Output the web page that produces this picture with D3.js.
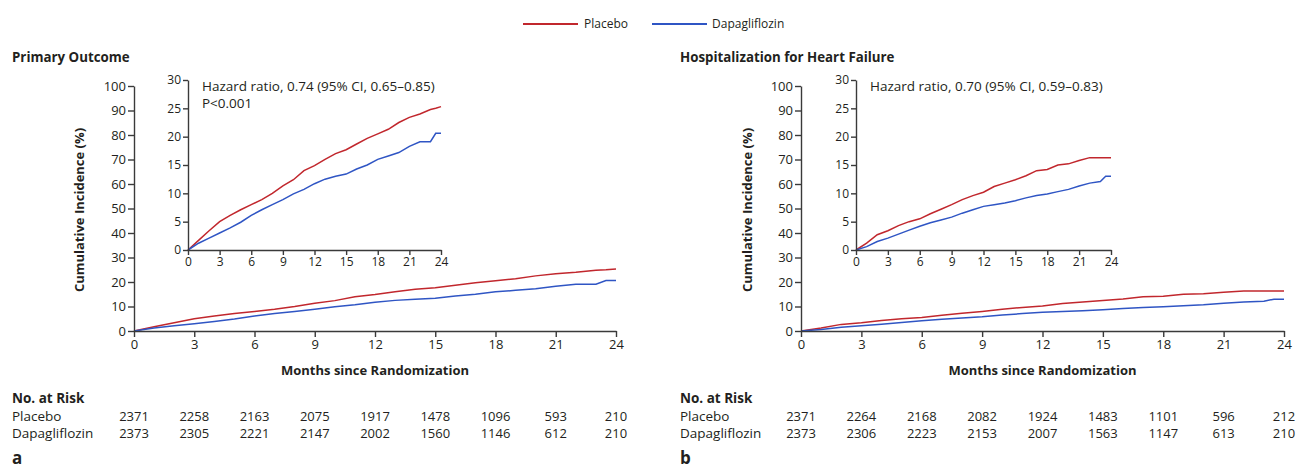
<!DOCTYPE html>
<html><head><meta charset="utf-8">
<script src="https://cdn.jsdelivr.net/npm/d3@7/dist/d3.min.js"></script>
<style>
body{margin:0;background:#fff;}
svg{display:block;}
text{font-family:"Open Sans",Lato,sans-serif;fill:#231f20;}
.axis path,.axis line{stroke:#3a3a3a;stroke-width:1.4;}
.axis text{font-size:13px;fill:#231f20;font-family:"Open Sans",sans-serif;}
.inset .axis text{font-size:12px;}
</style></head><body>
<svg id="chart" width="1298" height="471"></svg>
<script>
// ---------- data ----------
const seriesNames = ["Placebo", "Dapagliflozin"];
const xTicks = [0, 3, 6, 9, 12, 15, 18, 21, 24];
const mainYTicks = [0, 10, 20, 30, 40, 50, 60, 70, 80, 90, 100];
const insetYTicks = [0, 5, 10, 15, 20, 25, 30];

const timeA = [0,1,2,3,4,5,6,7,8,9,10,11,12,13,14,15,16,17,18,19,20,21,22,23,23.5,24];
const placeboA = [0,1.7,3.4,5.0,6.1,7.1,8.0,8.9,10.0,11.3,12.4,14.0,14.9,16.0,17.0,17.7,18.7,19.7,20.5,21.3,22.5,23.4,24.0,24.8,25.0,25.3];
const dapaA = [0,1.2,2.1,3.0,3.9,4.9,6.1,7.1,8.0,8.9,9.9,10.7,11.7,12.5,13.0,13.4,14.3,15.0,16.0,16.6,17.2,18.3,19.1,19.1,20.6,20.6];

const timeB = [0,1,2,3,4,5,6,7,8,9,10,11,12,13,14,15,16,17,18,19,20,21,22,23,23.5,24];
const placeboB = [0,1.2,2.7,3.4,4.3,5.0,5.5,6.4,7.2,8.0,8.9,9.6,10.2,11.2,11.8,12.4,13.1,14.0,14.2,15.0,15.2,15.8,16.3,16.3,16.3,16.3];
const dapaB = [0,0.6,1.5,2.1,2.8,3.5,4.2,4.8,5.3,5.8,6.5,7.1,7.7,8.0,8.3,8.7,9.2,9.6,9.9,10.3,10.7,11.3,11.8,12.1,13.0,13.0];

const riskPlaceboA = [2371,2258,2163,2075,1917,1478,1096,593,210];
const riskDapaA = [2373,2305,2221,2147,2002,1560,1146,612,210];
const riskPlaceboB = [2371,2264,2168,2082,1924,1483,1101,596,212];
const riskDapaB = [2373,2306,2223,2153,2007,1563,1147,613,210];

const titles = ["Primary Outcome", "Hospitalization for Heart Failure"];
const hrTexts = [["Hazard ratio, 0.74 (95% CI, 0.65\u20130.85)", "P<0.001"], ["Hazard ratio, 0.70 (95% CI, 0.59\u20130.83)"]];
const panelLetters = ["a", "b"];

// ---------- styles ----------
const colors = {Placebo: "#c1272d", Dapagliflozin: "#2f55c4"};

const svg = d3.select("#chart");

// legend
const legend = svg.append("g");
[[523, 584], [652, 712]].forEach((p, i) => {
  legend.append("line").attr("x1", p[0]).attr("x2", p[0] + 55).attr("y1", 24).attr("y2", 24)
    .attr("stroke", colors[seriesNames[i]]).attr("stroke-width", 2);
  legend.append("text").attr("x", p[1]).attr("y", 28).attr("font-size", 12).text(seriesNames[i]);
});

const panels = [
  {left: 0, mx: [134, 616], ix: [188, 441], time: timeA, placebo: placeboA, dapa: dapaA, riskP: riskPlaceboA, riskD: riskDapaA},
  {left: 668, mx: [801, 1284], ix: [856, 1111], time: timeB, placebo: placeboB, dapa: dapaB, riskP: riskPlaceboB, riskD: riskDapaB}
];

panels.forEach((P, pi) => {
  const g = svg.append("g");
  const L = P.left;
  // title
  g.append("text").attr("x", L + 12).attr("y", 62).attr("font-size", 13.3).attr("font-weight", "bold").text(titles[pi]);

  // main scales
  const x = d3.scaleLinear().domain([0, 24]).range(P.mx);
  const y = d3.scaleLinear().domain([0, 100]).range([331, 86]);
  const series = [{name: "Placebo", vals: P.placebo}, {name: "Dapagliflozin", vals: P.dapa}];

  const line = d3.line().x((d, i) => x(P.time[i])).y(d => y(d));
  series.forEach(s => {
    g.append("path").attr("d", line(s.vals)).attr("fill", "none")
      .attr("stroke", colors[s.name]).attr("stroke-width", 1.5);
  });

  g.append("g").attr("class", "axis").attr("transform", `translate(${P.mx[0]},0)`)
    .call(d3.axisLeft(y).tickValues(mainYTicks).tickSize(6).tickSizeOuter(0).tickPadding(2));
  g.append("g").attr("class", "axis").attr("transform", "translate(0,331)")
    .call(d3.axisBottom(x).tickValues(xTicks).tickSize(6).tickSizeOuter(0).tickPadding(3));

  // axis titles
  g.append("text").attr("transform", `translate(${L + 84},210) rotate(-90)`).attr("text-anchor", "middle")
    .attr("font-size", 13).attr("font-weight", "bold").text("Cumulative Incidence (%)");
  g.append("text").attr("x", (P.mx[0] + P.mx[1]) / 2).attr("y", 375).attr("text-anchor", "middle")
    .attr("font-size", 13).attr("font-weight", "bold").text("Months since Randomization");

  // inset
  const ig = g.append("g").attr("class", "inset");
  const xi = d3.scaleLinear().domain([0, 24]).range(P.ix);
  const yi = d3.scaleLinear().domain([0, 30]).range([250, 80]);
  const linei = d3.line().x((d, i) => xi(P.time[i])).y(d => yi(d));
  series.forEach(s => {
    ig.append("path").attr("d", linei(s.vals)).attr("fill", "none")
      .attr("stroke", colors[s.name]).attr("stroke-width", 1.5);
  });
  ig.append("g").attr("class", "axis").attr("transform", `translate(${P.ix[0]},0)`)
    .call(d3.axisLeft(yi).tickValues(insetYTicks).tickSize(5).tickSizeOuter(0).tickPadding(2));
  ig.append("g").attr("class", "axis").attr("transform", "translate(0,250)")
    .call(d3.axisBottom(xi).tickValues(xTicks).tickSize(5).tickSizeOuter(0).tickPadding(2));
  hrTexts[pi].forEach((t, k) => {
    ig.append("text").attr("x", P.ix[0] + 14).attr("y", 91 + k * 17).attr("font-size", 13.5).text(t);
  });

  // risk table
  g.append("text").attr("x", L + 12).attr("y", 403).attr("font-size", 13.5).attr("font-weight", "bold").text("No. at Risk");
  [[P.riskP, 421], [P.riskD, 438]].forEach((r, k) => {
    g.append("text").attr("x", L + 12).attr("y", r[1]).attr("font-size", 13.5).text(seriesNames[k]);
    g.selectAll(null).data(r[0]).enter().append("text")
      .attr("x", (d, i) => x(xTicks[i])).attr("y", r[1]).attr("text-anchor", "middle")
      .attr("font-size", 13).text(d => d);
  });
  g.append("text").attr("x", L + 12).attr("y", 464).attr("font-size", 17).attr("font-weight", "bold").text(panelLetters[pi]);
});
</script>
</body></html>
